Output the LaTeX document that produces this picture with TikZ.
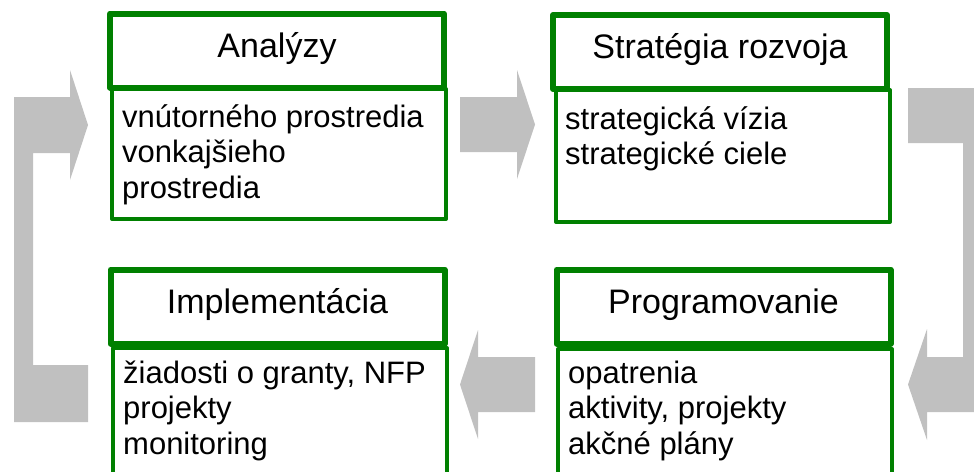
\documentclass[tikz,border=0pt]{standalone}
\usepackage{fontspec}
\setmainfont{Liberation Sans}
\definecolor{boxgreen}{RGB}{0,128,0}
\definecolor{arrowgrey}{RGB}{192,192,192}
\begin{document}
\begin{tikzpicture}[x=1pt,y=-1pt,
  headframe/.style={draw=boxgreen,line width=6pt,line join=round,fill=white,
    minimum width=334pt,minimum height=74pt,inner sep=0pt,
    font=\fontsize{34}{40}\selectfont,text height=24pt,text depth=11pt},
  bodyframe/.style={draw=boxgreen,line width=4pt,line join=round,fill=white,
    minimum width=334pt,inner sep=0pt,anchor=north west},
  bodytext/.style={font=\fontsize{31}{35.5}\selectfont,anchor=base west,align=left,inner sep=0pt},
  blockarrow/.style={fill=arrowgrey}]
\useasboundingbox (0,0) rectangle (974,471);
\clip (0,0) rectangle (974,471);
% grey block arrows
\fill[blockarrow] (14,97) -- (70,97) -- (70,70) -- (88,125) -- (70,180) -- (70,153)
  -- (33,153) -- (33,365) -- (88,365) -- (88,422) -- (14,422) -- cycle;
\fill[blockarrow] (460,97) -- (517,97) -- (517,70) -- (535,124.5) -- (517,179)
  -- (517,152) -- (460,152) -- cycle;
\fill[blockarrow] (908,88) -- (982,88) -- (982,412) -- (927,412) -- (927,440)
  -- (908,384.5) -- (927,329) -- (927,357) -- (963,357) -- (963,143) -- (908,143) -- cycle;
\fill[blockarrow] (535,357) -- (478,357) -- (478,330) -- (460,384.5) -- (478,439)
  -- (478,412) -- (535,412) -- cycle;
% body frames
\node[bodyframe,minimum height=130pt] (b1) at (110,87) {};
\node[bodyframe,minimum height=132pt] (b2) at (554,88) {};
\node[bodyframe,minimum height=160pt] (b3) at (111,346) {};
\node[bodyframe,minimum height=160pt] (b4) at (556,347) {};
% headers
\node[headframe] (h1) at (277,50.5) {Analýzy};
\node[headframe] (h2) at (720,52) {Stratégia rozvoja};
\node[headframe] (h3) at (277.5,306.5) {Implementácia};
\node[headframe] (h4) at (723.5,306.5) {Programovanie};
% body texts (anchor = baseline of the last line)
\node[bodytext] (t1) at (122,198) {vnútorného prostredia\\vonkajšieho\\prostredia};
\node[bodytext] (t2) at (565,164.5) {strategická vízia\\strategické ciele};
\node[bodytext] (t3) at (123,454) {žiadosti o granty, NFP\\projekty\\monitoring};
\node[bodytext] (t4) at (568,454) {opatrenia\\aktivity, projekty\\akčné plány};
\end{tikzpicture}
\end{document}
